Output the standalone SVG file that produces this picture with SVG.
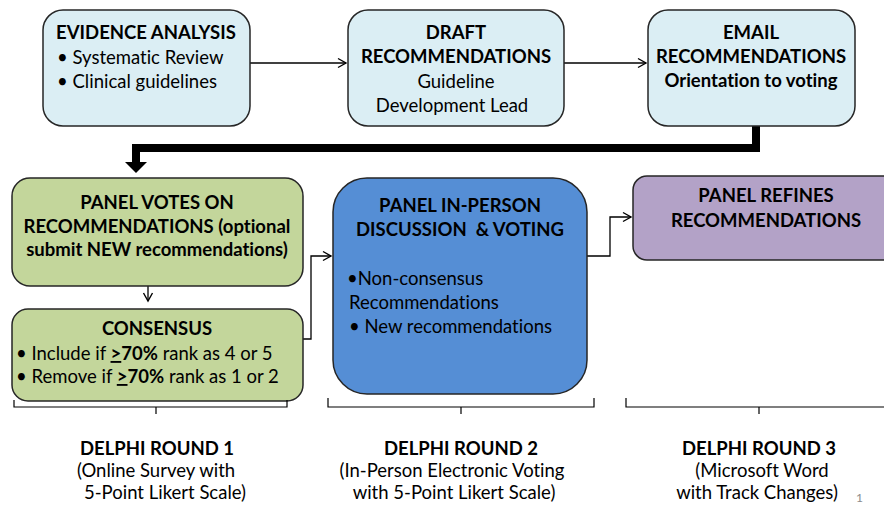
<svg xmlns="http://www.w3.org/2000/svg" width="884" height="505" viewBox="0 0 884 505">
<defs>
<marker id="open" markerWidth="12" markerHeight="12" refX="10" refY="6" orient="auto" markerUnits="userSpaceOnUse">
<path d="M2,1.5 L10,6 L2,10.5" fill="none" stroke="#000" stroke-width="1.4"/>
</marker>
</defs>
<style>
.t{font-family:Lato,"Liberation Sans",sans-serif;font-size:18.5px;fill:#000;font-variant-ligatures:none}
.b{font-weight:bold}
.c{text-anchor:middle}
.box{stroke:#262626;stroke-width:1.5}
.lb{fill:#DBEEF4}
.gr{fill:#C3D69B}
.bl{fill:#558ED5}
.pu{fill:#B3A2C7}
.conn{fill:none;stroke:#000;stroke-width:1.3}
.brace{fill:none;stroke:#000;stroke-width:1.2}
.u{text-decoration:underline}
</style>
<rect width="884" height="505" fill="#fff"/>

<g id="connectors">
<path class="conn" d="M250,63 H346" marker-end="url(#open)"/>
<path class="conn" d="M564,63 H646" marker-end="url(#open)"/>
<path d="M756,125 V148 H136 V163" fill="none" stroke="#000" stroke-width="8"/>
<polygon points="125,162 147,162 136,173" fill="#000"/>
<path class="conn" d="M148,286 V301" marker-end="url(#open)"/>
<path class="conn" d="M288,339 H311 V256 H331" marker-end="url(#open)"/>
<path class="conn" d="M587,256 H610 V217 H631" marker-end="url(#open)"/>
</g>

<g id="evidence">
<rect class="box lb" x="43" y="10" width="207" height="116" rx="20"/>
<text class="t b c" x="146" y="39">EVIDENCE ANALYSIS</text>
<text class="t" x="57" y="64">• Systematic Review</text>
<text class="t" x="57" y="88">• Clinical guidelines</text>
</g>

<g id="draft">
<rect class="box lb" x="348" y="10" width="216" height="116" rx="20"/>
<text class="t b c" x="456" y="39">DRAFT</text>
<text class="t b c" x="456" y="63">RECOMMENDATIONS</text>
<text class="t c" x="456" y="88">Guideline</text>
<text class="t c" x="452" y="112">Development Lead</text>
</g>

<g id="email">
<rect class="box lb" x="648" y="10" width="207" height="116" rx="20"/>
<text class="t b c" x="751" y="39">EMAIL</text>
<text class="t b c" x="751" y="63">RECOMMENDATIONS</text>
<text class="t b c" x="751" y="87">Orientation to voting</text>
</g>

<g id="panel-votes">
<rect class="box gr" x="12" y="178" width="291" height="108" rx="18"/>
<text class="t b c" x="157" y="209">PANEL VOTES ON</text>
<text class="t b c" x="157" y="233">RECOMMENDATIONS (optional</text>
<text class="t b c" x="157" y="256">submit NEW recommendations)</text>
</g>

<g id="consensus">
<rect class="box gr" x="12" y="309" width="291" height="92" rx="16"/>
<text class="t b c" x="157" y="335">CONSENSUS</text>
<text class="t" x="16" y="360">• Include if <tspan class="b u">&gt;</tspan><tspan class="b">70%</tspan> rank as 4 or 5</text>
<text class="t" x="16" y="383">• Remove if <tspan class="b u">&gt;</tspan><tspan class="b">70%</tspan> rank as 1 or 2</text>
</g>

<g id="in-person">
<rect class="box bl" x="333" y="178" width="254" height="216" rx="34"/>
<text class="t b c" x="460" y="212">PANEL IN-PERSON</text>
<text class="t b c" x="460" y="236" xml:space="preserve">DISCUSSION  &amp; VOTING</text>
<text class="t" x="347" y="285">•Non-consensus</text>
<text class="t" x="349" y="309">Recommendations</text>
<text class="t" x="349" y="333">• New recommendations</text>
</g>

<g id="refines">
<rect class="box pu" x="633" y="176" width="270" height="84" rx="14"/>
<text class="t b c" x="766" y="202">PANEL REFINES</text>
<text class="t b c" x="766" y="227">RECOMMENDATIONS</text>
</g>

<g id="braces">
<path class="brace" d="M14,400 V407 H287 V400 M156,407 V414"/>
<path class="brace" d="M328,398 V407 H594 V398 M461,407 V414"/>
<path class="brace" d="M626,398 V407 H884 M759,407 V414"/>
</g>

<g id="round1">
<text class="t b c" x="157" y="455">DELPHI ROUND 1</text>
<text class="t c" x="156" y="477">(Online Survey with</text>
<text class="t" x="84" y="499">5-Point Likert Scale)</text>
</g>
<g id="round2">
<text class="t b c" x="461" y="455">DELPHI ROUND 2</text>
<text class="t c" x="452" y="477">(In-Person Electronic Voting</text>
<text class="t c" x="454" y="499">with 5-Point Likert Scale)</text>
</g>
<g id="round3">
<text class="t b c" x="759" y="455">DELPHI ROUND 3</text>
<text class="t c" x="762" y="477">(Microsoft Word</text>
<text class="t c" x="757" y="499">with Track Changes)</text>
</g>
<text x="856" y="502" font-family="Lato,'Liberation Sans',sans-serif" font-size="12" fill="#8c8c8c">1</text>
</svg>
